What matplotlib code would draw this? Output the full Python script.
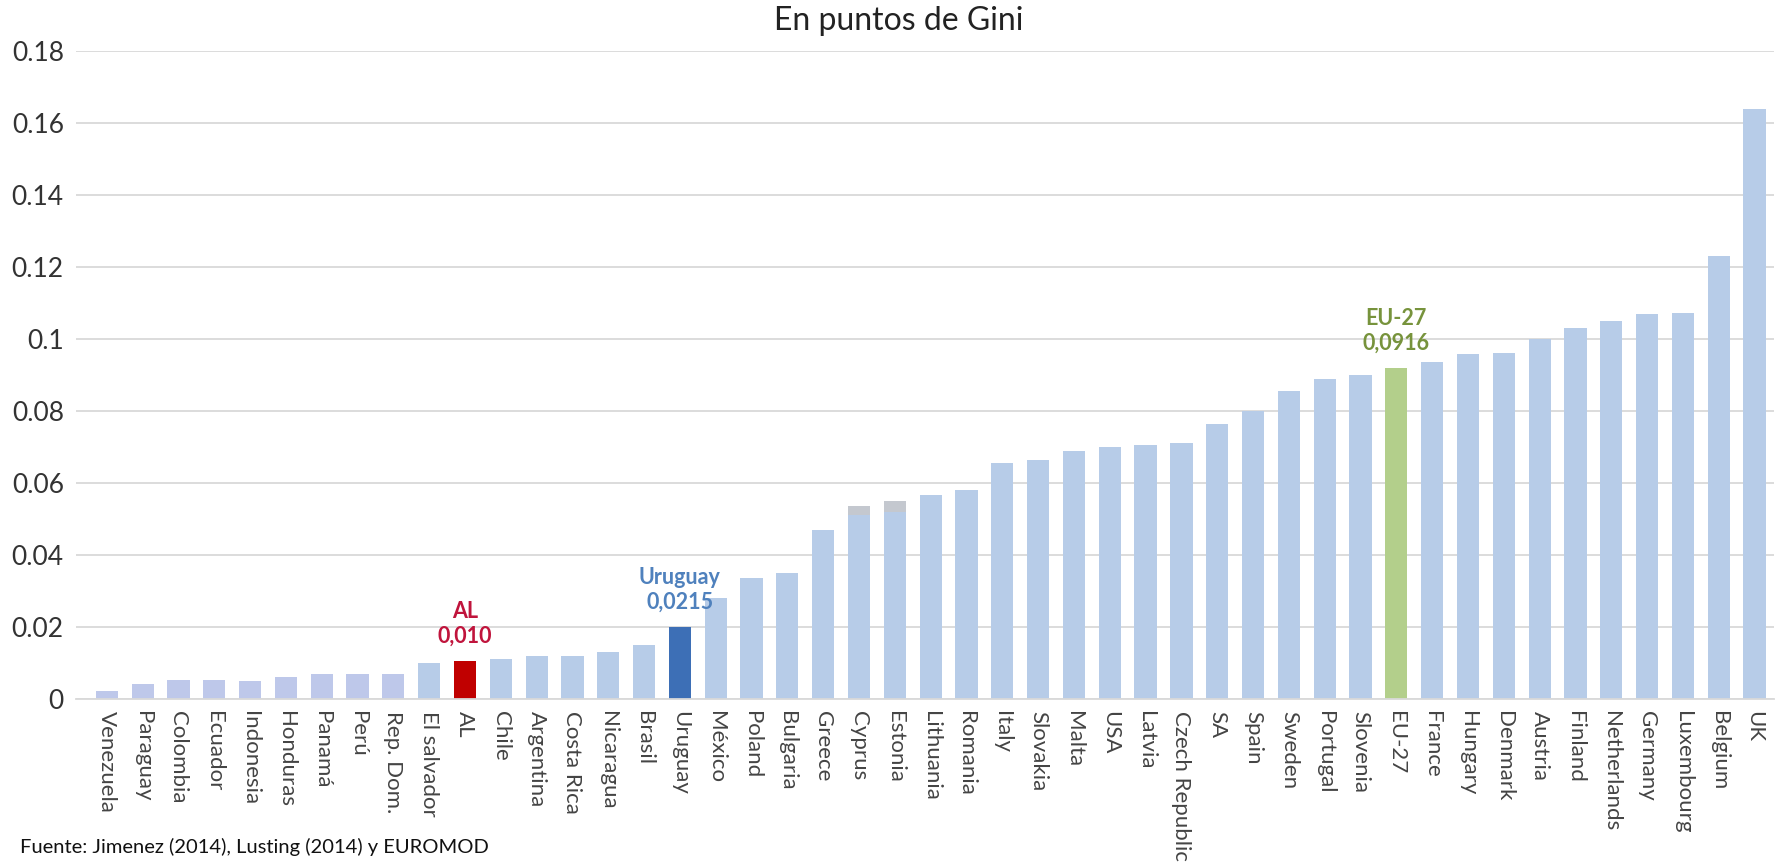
import numpy as np
import matplotlib
matplotlib.use("Agg")
import matplotlib.pyplot as plt

plt.rcParams["font.family"] = ["Lato", "DejaVu Sans"]

countries = [
    "Venezuela", "Paraguay", "Colombia", "Ecuador", "Indonesia", "Honduras",
    "Panamá", "Perú", "Rep. Dom.", "El salvador", "AL", "Chile", "Argentina",
    "Costa Rica", "Nicaragua", "Brasil", "Uruguay", "México", "Poland",
    "Bulgaria", "Greece", "Cyprus", "Estonia", "Lithuania", "Romania", "Italy",
    "Slovakia", "Malta", "USA", "Latvia", "Czech Republic", "SA", "Spain",
    "Sweden", "Portugal", "Slovenia", "EU-27", "France", "Hungary", "Denmark",
    "Austria", "Finland", "Netherlands", "Germany", "Luxembourg", "Belgium", "UK",
]
values = [
    0.0022, 0.0040, 0.0053, 0.0053, 0.0050, 0.0060, 0.0070, 0.0070, 0.0070,
    0.0100, 0.0105, 0.0110, 0.0120, 0.0120, 0.0130, 0.0150, 0.0200, 0.0280,
    0.0337, 0.0350, 0.0470, 0.0512, 0.0518, 0.0567, 0.0580, 0.0655, 0.0665,
    0.0690, 0.0700, 0.0705, 0.0712, 0.0765, 0.0800, 0.0855, 0.0890, 0.0900,
    0.0920, 0.0935, 0.0957, 0.0960, 0.1000, 0.1030, 0.1050, 0.1070, 0.1073,
    0.1230, 0.1640,
]
# small grey caps visible on top of two bars
extra = {"Cyprus": 0.0023, "Estonia": 0.0032}

highlights = {
    "AL": ("#c00000", "#c0143c", "AL\n0,010"),
    "Uruguay": ("#3d6fb6", "#4f81bd", "Uruguay\n0,0215"),
    "EU-27": ("#b3cf8b", "#77933c", "EU-27\n0,0916"),
}

y_ticks = [0, 0.02, 0.04, 0.06, 0.08, 0.1, 0.12, 0.14, 0.16, 0.18]
y_tick_labels = ["0", "0.02", "0.04", "0.06", "0.08", "0.1", "0.12", "0.14", "0.16", "0.18"]

fig = plt.figure(figsize=(17.76, 8.66), dpi=100)
ax = fig.add_axes([0.043, 0.193, 0.956, 0.748])

x = np.arange(len(countries))
colors = []
for i, c in enumerate(countries):
    if c in highlights:
        colors.append(highlights[c][0])
    elif i < 9:
        colors.append("#bec8ea")
    else:
        colors.append("#b7cce8")

ax.bar(x, values, width=0.62, color=colors, zorder=2)
for c, h in extra.items():
    i = countries.index(c)
    ax.bar(i, h, bottom=values[i], width=0.62, color="#c4c8cf", zorder=2)

for c, (_, tcol, label) in highlights.items():
    i = countries.index(c)
    ax.annotate(label, (i, values[i]), xytext=(0, 10), textcoords="offset points",
                ha="center", va="bottom", fontsize=15.5, fontweight="bold",
                color=tcol, linespacing=1.25)

ax.set_ylim(0, 0.18)
ax.set_xlim(-0.85, len(countries) - 0.45)
ax.set_yticks(y_ticks)
ax.set_yticklabels(y_tick_labels, fontsize=19, color="#333333")
ax.set_xticks(x)
ax.set_xticklabels(countries, rotation=270, fontsize=16, color="#444444")
ax.tick_params(length=0, pad=9)
ax.grid(axis="y", color="#d9d9d9", linewidth=1.3, zorder=0)
for s in ["top", "right", "left"]:
    ax.spines[s].set_visible(False)
ax.spines["bottom"].set_color("#d9d9d9")
ax.spines["bottom"].set_linewidth(1.3)

fig.text(0.506, 0.976, "En puntos de Gini", ha="center", va="center",
         fontsize=23, color="#222222")
fig.text(0.011, 0.022, "Fuente: Jimenez (2014), Lusting (2014) y EUROMOD",
         ha="left", va="center", fontsize=14.5, color="#111111")

fig.savefig("out.png", dpi=100)
